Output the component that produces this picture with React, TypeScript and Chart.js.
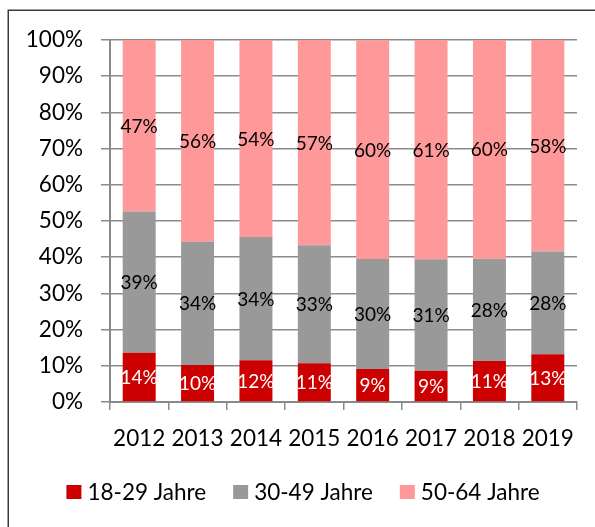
import React, { useEffect, useRef } from "react";
import { Chart, registerables } from "chart.js";

Chart.register(...registerables);

const years = ["2012", "2013", "2014", "2015", "2016", "2017", "2018", "2019"];
const seriesNames = ["18-29 Jahre", "30-49 Jahre", "50-64 Jahre"];
const young = [13.6, 10.2, 11.5, 10.7, 9.1, 8.6, 11.3, 13.2];
const middle = [39.0, 34.1, 34.1, 32.6, 30.4, 30.8, 28.3, 28.4];
const older = [47.4, 55.7, 54.4, 56.7, 60.4, 60.6, 60.4, 58.4];
const colors = ["#CC0000", "#999999", "#FF9999"];
const labelColors = ["#FFFFFF", "#000000", "#000000"];

const FONT = "Lato";

const framePlugin = {
  id: "frame",
  beforeDraw(chart: any) {
    const ctx = chart.ctx;
    ctx.save();
    ctx.fillStyle = "#FFFFFF";
    ctx.fillRect(0, 0, chart.width, chart.height);
    ctx.strokeStyle = "#3c3c3c";
    ctx.lineWidth = 1.5;
    ctx.beginPath();
    ctx.moveTo(8.25, chart.height + 5);
    ctx.lineTo(8.25, 10.25);
    ctx.lineTo(chart.width + 5, 10.25);
    ctx.stroke();
    ctx.restore();
  },
};

const dataLabelPlugin = {
  id: "dataLabels",
  afterDatasetsDraw(chart: any) {
    const ctx = chart.ctx;
    ctx.save();
    ctx.font = `19px ${FONT}`;
    ctx.textAlign = "center";
    ctx.textBaseline = "middle";
    chart.data.datasets.forEach((ds: any, di: number) => {
      const meta = chart.getDatasetMeta(di);
      meta.data.forEach((el: any, i: number) => {
        const v = ds.data[i];
        const y = (el.y + el.base) / 2 + 1;
        ctx.fillStyle = labelColors[di];
        ctx.fillText(Math.round(v) + "%", el.x, y);
      });
    });
    ctx.restore();
  },
};

const legendPlugin = {
  id: "customLegend",
  afterDraw(chart: any) {
    const ctx = chart.ctx;
    ctx.save();
    ctx.font = `22.5px ${FONT}`;
    ctx.textBaseline = "middle";
    ctx.textAlign = "left";
    const box = 15;
    const gapText = 6;
    const gapItem = 27;
    const widths = seriesNames.map((n) => box + gapText + ctx.measureText(n).width);
    const total = widths.reduce((a, b) => a + b, 0) + gapItem * (seriesNames.length - 1);
    const centerX = 303;
    const cy = 492;
    let x = centerX - total / 2;
    seriesNames.forEach((n, i) => {
      ctx.fillStyle = colors[i];
      ctx.fillRect(x, cy - 7, box, 14);
      ctx.fillStyle = "#000000";
      ctx.fillText(n, x + box + gapText, cy + 1);
      x += widths[i] + gapItem;
    });
    ctx.restore();
  },
};

export default function App() {
  const ref = useRef<HTMLCanvasElement | null>(null);

  useEffect(() => {
    if (!ref.current) return;
    const chart = new Chart(ref.current, {
      type: "bar",
      data: {
        labels: years,
        datasets: [
          { label: seriesNames[0], data: young, backgroundColor: colors[0] },
          { label: seriesNames[1], data: middle, backgroundColor: colors[1] },
          { label: seriesNames[2], data: older, backgroundColor: colors[2] },
        ],
      },
      options: {
        responsive: false,
        animation: false,
        datasets: {
          bar: { barPercentage: 1, categoryPercentage: 0.565 },
        },
        layout: { padding: { top: 40, right: 18, bottom: 65, left: 0 } },
        plugins: {
          legend: { display: false },
          tooltip: { enabled: false },
        },
        scales: {
          x: {
            stacked: true,
            offset: true,
            grid: {
              offset: true,
              drawOnChartArea: false,
              drawTicks: true,
              tickLength: 8,
              color: "#8a8a8a",
              lineWidth: 1.5,
            },
            border: { display: true, color: "#8a8a8a", width: 2 },
            ticks: {
              color: "#000000",
              font: { family: FONT, size: 22.5 },
              padding: 15,
              maxRotation: 0,
              autoSkip: false,
            },
            afterFit(scale: any) {
              scale.height = 60;
            },
          },
          y: {
            stacked: true,
            min: 0,
            max: 100,
            grid: {
              color: "#8c8c8c",
              lineWidth: 1.5,
              drawTicks: true,
              tickLength: 9,
            },
            border: { display: true, color: "#8a8a8a", width: 2 },
            ticks: {
              stepSize: 10,
              color: "#000000",
              font: { family: FONT, size: 22.5 },
              padding: 18,
              callback: (v: any) => v + "%",
            },
            afterFit(scale: any) {
              scale.width = 110;
            },
          },
        },
      },
      plugins: [framePlugin, dataLabelPlugin, legendPlugin],
    });
    return () => chart.destroy();
  }, []);

  return (
    <div style={{ position: "absolute", left: 0, top: 0, width: 595, height: 527 }}>
      <canvas ref={ref} width={595} height={527} style={{ display: "block" }} />
    </div>
  );
}
